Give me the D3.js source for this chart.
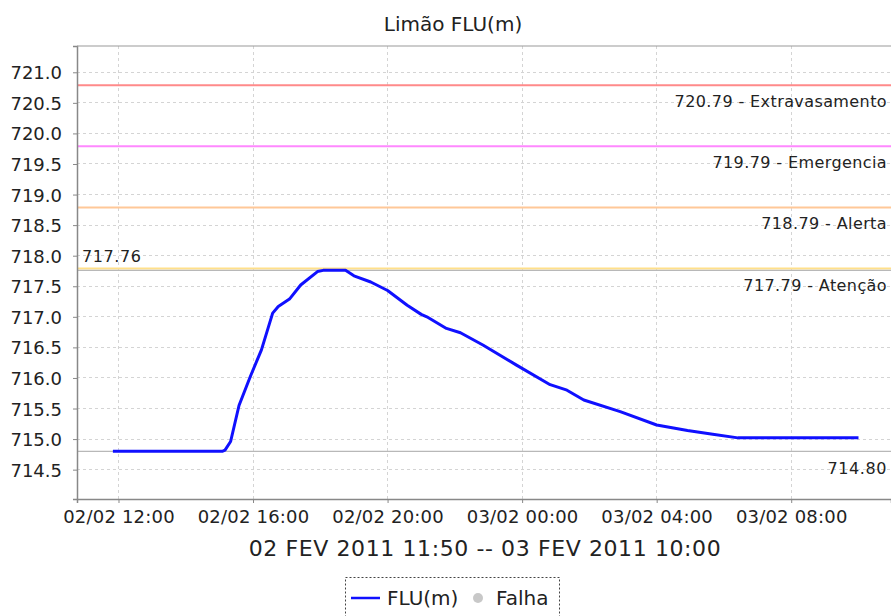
<!DOCTYPE html>
<html>
<head>
<meta charset="utf-8">
<script src="https://cdn.jsdelivr.net/npm/d3@7"></script>
<style>
  html, body { margin: 0; padding: 0; background: #fff; }
  svg { display: block; }
  text { font-family: "DejaVu Sans", sans-serif; fill: #222; }
</style>
</head>
<body>
<svg id="chart" width="891" height="616"></svg>
<script>
// ---- data ----
const title = "Limão FLU(m)";
const subtitle = "02 FEV 2011 11:50 -- 03 FEV 2011 10:00";
const seriesName = "FLU(m)";
const failName = "Falha";

const times = [
  "02/02/2011 11:50", "02/02/2011 15:05", "02/02/2011 15:10", "02/02/2011 15:20",
  "02/02/2011 15:35", "02/02/2011 15:55", "02/02/2011 16:15", "02/02/2011 16:35",
  "02/02/2011 16:45", "02/02/2011 17:05", "02/02/2011 17:25", "02/02/2011 17:55",
  "02/02/2011 18:05", "02/02/2011 18:45", "02/02/2011 19:00", "02/02/2011 19:30",
  "02/02/2011 20:00", "02/02/2011 20:35", "02/02/2011 21:00", "02/02/2011 21:10",
  "02/02/2011 21:45", "02/02/2011 22:10", "02/02/2011 22:50", "02/02/2011 23:50",
  "03/02/2011 00:50", "03/02/2011 01:20", "03/02/2011 01:50", "03/02/2011 02:55",
  "03/02/2011 04:00", "03/02/2011 04:55", "03/02/2011 05:40", "03/02/2011 06:25",
  "03/02/2011 10:00"
];
const values = [
  714.80, 714.80, 714.82, 714.96,
  715.55, 716.02, 716.46, 717.06,
  717.17, 717.29, 717.52, 717.74,
  717.76, 717.76, 717.67, 717.57,
  717.43, 717.19, 717.04, 717.00,
  716.81, 716.74, 716.54, 716.21,
  715.89, 715.80, 715.64, 715.45,
  715.23, 715.14, 715.08, 715.02,
  715.02
];

const thresholdValues = [720.79, 719.79, 718.79, 717.79];
const thresholdNames  = ["Extravasamento", "Emergencia", "Alerta", "Atenção"];
const thresholdColors = ["#ff8a8a", "#ff88ff", "#ffc898", "#ffe08a"];
const maxValue = 717.76;
const minValue = 714.80;

const xRange = ["02/02/2011 10:46", "03/02/2011 10:58"];
const yRange = [714.02, 721.43];
const yTicks = [714.5, 715.0, 715.5, 716.0, 716.5, 717.0, 717.5, 718.0, 718.5, 719.0, 719.5, 720.0, 720.5, 721.0];

// ---- chart ----
const parse = d3.timeParse("%d/%m/%Y %H:%M");
const data = times.map((t, i) => ({ t: parse(t), v: values[i] }));

const svg = d3.select("#chart");
const L = 77, R = 891, T = 46, B = 499;

const x = d3.scaleTime().domain(xRange.map(parse)).range([L, R]);
const y = d3.scaleLinear().domain(yRange).range([B, T]);

// grid
const grid = svg.append("g");
grid.selectAll("line.gy").data(yTicks).join("line")
  .attr("x1", L).attr("x2", R)
  .attr("y1", d => y(d)).attr("y2", d => y(d))
  .attr("stroke", "#d4d4d4").attr("stroke-width", 1)
  .attr("stroke-dasharray", "3,3").attr("shape-rendering", "crispEdges");
const xTicks = x.ticks(d3.timeHour.every(4));
grid.selectAll("line.gx").data(xTicks).join("line")
  .attr("x1", d => x(d)).attr("x2", d => x(d))
  .attr("y1", T).attr("y2", B)
  .attr("stroke", "#d4d4d4").attr("stroke-width", 1)
  .attr("stroke-dasharray", "3,3").attr("shape-rendering", "crispEdges");

// threshold lines
thresholdValues.forEach((v, i) => {
  svg.append("line")
    .attr("x1", L).attr("x2", R).attr("y1", y(v)).attr("y2", y(v))
    .attr("stroke", thresholdColors[i]).attr("stroke-width", 2);
  svg.append("text")
    .attr("x", 887).attr("y", y(v) + 22)
    .attr("text-anchor", "end")
    .style("font-size", "16px").style("letter-spacing", "0.4px")
    .text(v.toFixed(2) + " - " + thresholdNames[i]);
});

// min & max markers
svg.append("line")
  .attr("x1", L).attr("x2", R).attr("y1", y(maxValue)).attr("y2", y(maxValue))
  .attr("stroke", "#b8b8b8").attr("stroke-width", 1.2);
svg.append("text")
  .attr("x", 82).attr("y", y(maxValue) - 8)
  .style("font-size", "16px").style("letter-spacing", "0.6px")
  .text(maxValue.toFixed(2));
svg.append("line")
  .attr("x1", L).attr("x2", R).attr("y1", y(minValue)).attr("y2", y(minValue))
  .attr("stroke", "#b8b8b8").attr("stroke-width", 1.2);
svg.append("text")
  .attr("x", 887).attr("y", y(minValue) + 23)
  .attr("text-anchor", "end")
  .style("font-size", "16px").style("letter-spacing", "0.6px")
  .text(minValue.toFixed(2));

// series
const line = d3.line().x(d => x(d.t)).y(d => y(d.v));
svg.append("path").datum(data)
  .attr("d", line)
  .attr("fill", "none").attr("stroke", "#1010ff")
  .attr("stroke-width", 3).attr("stroke-linejoin", "round");

// axes
const yAxis = svg.append("g").attr("transform", `translate(${L},0)`)
  .call(d3.axisLeft(y).tickValues(yTicks).tickFormat(d3.format(".1f")).tickSize(4).tickPadding(11));
const xAxis = svg.append("g").attr("transform", `translate(0,${B})`)
  .call(d3.axisBottom(x).ticks(d3.timeHour.every(4)).tickFormat(d3.timeFormat("%d/%m %H:%M")).tickSize(4).tickPadding(7));
[yAxis, xAxis].forEach(a => {
  a.select(".domain").attr("stroke", "#888").attr("stroke-width", 1.5);
  a.selectAll(".tick line").attr("stroke", "#888");
  a.selectAll(".tick text").style("font-size", "18px").style("font-family", "DejaVu Sans, sans-serif").attr("fill", "#222");
});
yAxis.selectAll(".tick text").attr("dy", "0.36em");
xAxis.selectAll(".tick text").style("letter-spacing", "0.2px");

// top border
svg.append("line").attr("x1", L).attr("x2", R).attr("y1", T).attr("y2", T)
  .attr("stroke", "#999").attr("stroke-width", 1.2);

// title and subtitle
svg.append("text").attr("x", 453).attr("y", 31).attr("text-anchor", "middle")
  .style("font-size", "20px").text(title);
svg.append("text").attr("x", 485).attr("y", 556).attr("text-anchor", "middle")
  .style("font-size", "22px").style("letter-spacing", "0.6px").text(subtitle);

// legend
const lg = svg.append("g");
lg.append("rect").attr("x", 345.5).attr("y", 577.5).attr("width", 214).attr("height", 50)
  .attr("fill", "none").attr("stroke", "#444").attr("stroke-dasharray", "2,2");
lg.append("line").attr("x1", 351).attr("x2", 380).attr("y1", 598).attr("y2", 598)
  .attr("stroke", "#1010ff").attr("stroke-width", 2.5);
lg.append("text").attr("x", 387).attr("y", 605).style("font-size", "20px").text(seriesName);
lg.append("circle").attr("cx", 478).attr("cy", 598).attr("r", 5).attr("fill", "#c8c8c8");
lg.append("text").attr("x", 496).attr("y", 605).style("font-size", "20px").text(failName);
</script>
</body>
</html>
